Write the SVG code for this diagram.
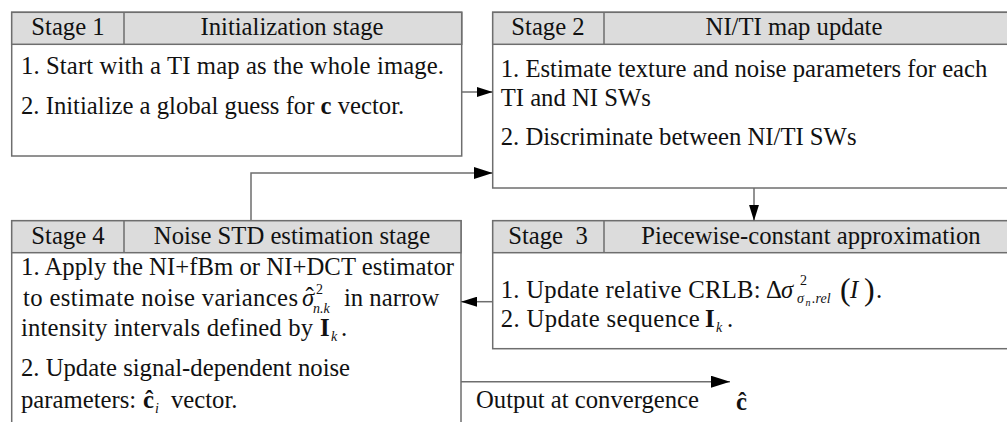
<svg xmlns="http://www.w3.org/2000/svg" width="1007" height="422" viewBox="0 0 1007 422">
<style>
text{font-family:"Liberation Serif","Times New Roman",serif;fill:#111;font-size:24.7px}
.h{text-anchor:middle}
.box{fill:#fff;stroke:#6e6e6e;stroke-width:1.5}
.hd{fill:#dcdcdc;stroke:#6e6e6e;stroke-width:1.5}
.ln{fill:none;stroke:#6e6e6e;stroke-width:1.5}
.it{font-style:italic}
.bd{font-weight:bold}
.sm{font-size:14px}
.xs{font-size:10px}
.big{font-size:32px}
</style>
<defs>
<marker id="a" markerUnits="userSpaceOnUse" markerWidth="16" markerHeight="10" refX="16" refY="5" orient="auto"><path d="M0,0 L16,5 L0,10 z" fill="#000"/></marker>
<marker id="aL" markerUnits="userSpaceOnUse" markerWidth="19" markerHeight="12" refX="19" refY="6" orient="auto"><path d="M0,0 L19,6 L0,12 z" fill="#000"/></marker>
</defs>
<g id="stage1">
<rect class="box" x="11.7" y="12.3" width="450" height="143.7"/>
<rect class="hd" x="11.7" y="12.3" width="450" height="32"/>
<line class="ln" x1="124" y1="12.3" x2="124" y2="44.3"/>
<text class="h" x="68" y="35">Stage 1</text>
<text class="h" x="292" y="35">Initialization stage</text>
<text x="21" y="74" textLength="423" lengthAdjust="spacing">1. Start with a TI map as the whole image.</text>
<text x="21" y="114">2. Initialize a global guess for <tspan class="bd">c</tspan> vector.</text>
</g>
<g id="stage2">
<rect class="box" x="492.7" y="12.3" width="530" height="175.7"/>
<rect class="hd" x="492.7" y="12.3" width="530" height="32"/>
<line class="ln" x1="604" y1="12.3" x2="604" y2="44.3"/>
<text class="h" x="548" y="35">Stage 2</text>
<text class="h" x="794" y="35">NI/TI map update</text>
<text x="500.7" y="77">1. Estimate texture and noise parameters for each</text>
<text x="500.7" y="106">TI and NI SWs</text>
<text x="500.7" y="145">2. Discriminate between NI/TI SWs</text>
</g>
<g id="stage3">
<rect class="box" x="492.7" y="220.7" width="530" height="128"/>
<rect class="hd" x="492.7" y="220.7" width="530" height="32"/>
<line class="ln" x1="604" y1="220.7" x2="604" y2="252.7"/>
<text class="h" x="548" y="244" xml:space="preserve">Stage  3</text>
<text class="h" x="811" y="244">Piecewise-constant approximation</text>
<text x="500.7" y="298"><tspan textLength="260" lengthAdjust="spacing">1. Update relative CRLB:</tspan><tspan x="766">Δ</tspan><tspan class="it" x="781">σ</tspan><tspan class="sm" x="800" y="285">2</tspan><tspan class="sm it" x="797" y="303">σ</tspan><tspan class="xs it" x="805.5" y="306">n</tspan><tspan class="sm it" x="812" y="303">.rel</tspan><tspan class="big" x="840" y="300">(</tspan><tspan class="it" x="850" y="298">I</tspan><tspan class="big" x="864" y="300">)</tspan><tspan x="876" y="298">.</tspan></text>
<text x="500.7" y="327"><tspan textLength="199" lengthAdjust="spacing">2. Update sequence</tspan><tspan class="bd" x="705">I</tspan><tspan class="sm it" x="716" y="332">k</tspan><tspan x="727" y="327">.</tspan></text>
</g>
<g id="stage4">
<rect class="box" x="11.7" y="220.7" width="449.3" height="220"/>
<rect class="hd" x="11.7" y="220.7" width="449.3" height="32"/>
<line class="ln" x1="124" y1="220.7" x2="124" y2="252.7"/>
<text class="h" x="68" y="244">Stage 4</text>
<text class="h" x="292" y="244">Noise STD estimation stage</text>
<text x="21" y="275" textLength="433" lengthAdjust="spacing">1. Apply the NI+fBm or NI+DCT estimator</text>
<text x="23" y="306"><tspan textLength="275" lengthAdjust="spacing">to estimate noise variances</tspan><tspan class="it" x="302">σ</tspan><tspan x="305.5" y="305">ˆ</tspan><tspan class="sm" x="316" y="294">2</tspan><tspan class="sm it" x="313" y="313">n.k</tspan><tspan x="344" y="306">in narrow</tspan></text>
<text x="21" y="336"><tspan textLength="292" lengthAdjust="spacing">intensity intervals defined by</tspan><tspan class="bd" x="320">I</tspan><tspan class="sm it" x="331" y="341">k</tspan><tspan x="341" y="336">.</tspan></text>
<text x="21" y="376">2. Update signal-dependent noise</text>
<text x="21" y="408">parameters:<tspan class="bd" x="143">ĉ</tspan><tspan class="sm it" x="155" y="413">i</tspan><tspan x="171" y="408">vector.</tspan></text>
</g>
<g id="output">
<text x="476" y="408">Output at convergence</text>
<text class="bd" x="736" y="410">ĉ</text>
</g>
<g id="connectors">
<path class="ln" d="M461.7,92 H492.7" marker-end="url(#a)"/>
<path class="ln" d="M251,220.7 V173 H492.7" marker-end="url(#aL)"/>
<path class="ln" d="M754,188 V220.7" marker-end="url(#a)"/>
<path class="ln" d="M492.7,301.7 H461" marker-end="url(#a)"/>
<path class="ln" d="M461,381.7 H730" marker-end="url(#aL)"/>
</g>
</svg>
